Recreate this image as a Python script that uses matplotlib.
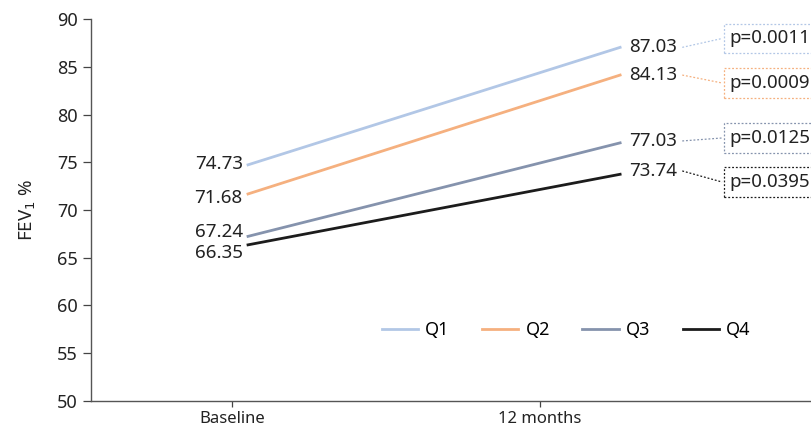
import matplotlib
matplotlib.use('Agg')
import matplotlib.pyplot as plt

plt.rcParams['font.family'] = ['Noto Sans', 'DejaVu Sans']

groups = ['Q1', 'Q2', 'Q3', 'Q4']
baseline = [74.73, 71.68, 67.24, 66.35]
month12 = [87.03, 84.13, 77.03, 73.74]
pvalues = ['p=0.0011', 'p=0.0009', 'p=0.0125', 'p=0.0395']
colors = ['#b2c7e6', '#f5b07f', '#8593ad', '#1c1c1c']
tick_labels = ['Baseline', '12 months']

# label offsets (data units) to keep close labels apart
left_shift = [0.1, -0.4, 0.45, -0.85]
right_shift = [0.0, 0.0, 0.2, 0.35]
box_y = [87.96, 83.3, 77.54, 72.93]

fig = plt.figure(figsize=(8.11, 4.29), dpi=100)
ax = fig.add_axes([0.1122, 0.0653, 0.8878, 0.8904])

x = [0, 1]
for i, g in enumerate(groups):
    ax.plot(x, [baseline[i], month12[i]], color=colors[i], lw=2.0, label=g)
    ax.text(-0.014, baseline[i] + left_shift[i], f'{baseline[i]:.2f}',
            ha='right', va='center', fontsize=13.5, color='#222222')
    ax.text(1.024, month12[i] + right_shift[i], f'{month12[i]:.2f}',
            ha='left', va='center', fontsize=13.5, color='#222222')
    ax.plot([1.167, 1.274], [month12[i] + right_shift[i], box_y[i]],
            color=colors[i], lw=0.9, ls=(0, (1.5, 1.5)), clip_on=False)
    ax.text(1.293, box_y[i], pvalues[i], ha='left', va='center',
            fontsize=13.5, color='#222222', clip_on=False,
            bbox=dict(boxstyle='square,pad=0.3', fc='white',
                      ec=colors[i], lw=0.9, ls=(0, (1.5, 1.5))))

ax.set_xlim(-0.422, 1.513)
ax.set_ylim(50, 90)
ax.set_xticks([-0.043, 0.785])
ax.set_xticklabels(tick_labels, fontsize=12)
ax.set_yticks(range(50, 91, 5))
ax.tick_params(axis='y', labelsize=13, length=6, width=0.9, color='#444444', labelcolor='#222222')
ax.tick_params(axis='x', length=4, width=0.9, color='#444444', labelcolor='#222222')
ax.set_ylabel('FEV$_1$ %', fontsize=13.5, color='#222222', labelpad=14)

for s in ['top', 'right']:
    ax.spines[s].set_visible(False)
for s in ['left', 'bottom']:
    ax.spines[s].set_color('#555555')
    ax.spines[s].set_linewidth(1.0)

ax.legend(loc='center', bbox_to_anchor=(0.66, 0.186), ncol=4, frameon=False,
          fontsize=13, handlelength=2.0, columnspacing=1.8, handletextpad=0.4)

fig.savefig('out.png', dpi=100)
